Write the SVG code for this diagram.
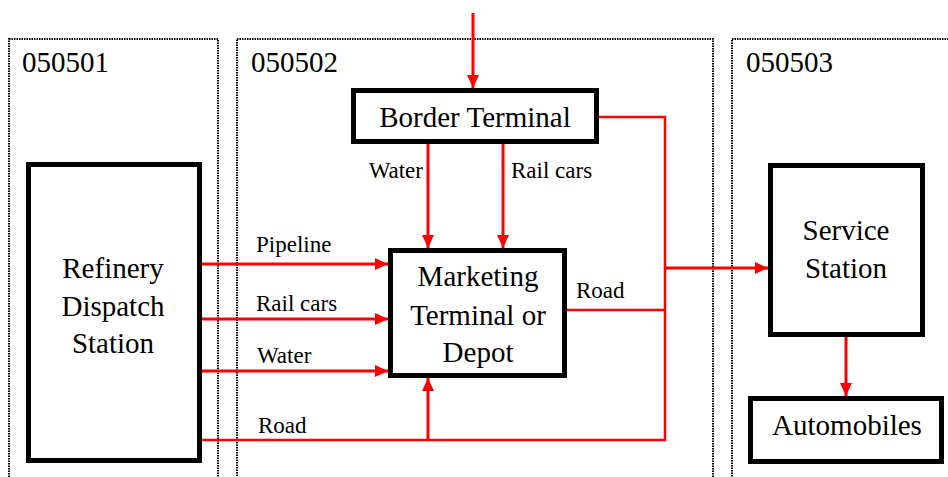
<svg xmlns="http://www.w3.org/2000/svg" width="948" height="477" viewBox="0 0 948 477" font-family="Liberation Serif, Times New Roman, serif">
<defs>
<style>
.zone{fill:none;stroke:#000;stroke-width:2;stroke-dasharray:1.5,1}
.node{fill:#fff;stroke:#000;stroke-width:5}
text{font-family:'Liberation Serif','Times New Roman',serif;fill:#000}
.big{font-size:29px;text-anchor:middle}
.zl{font-size:29px}
.lbl{font-size:23px}
.c{fill:none;stroke:#ff0000;stroke-width:3}
.thin{stroke-width:2.5}
</style>
<marker id="ah" markerUnits="userSpaceOnUse" markerWidth="13" markerHeight="12" refX="13" refY="6" orient="auto">
<path d="M0,0 L13,6 L0,12 z" fill="#ff0000"/>
</marker>
</defs>
<rect width="948" height="477" fill="#fff"/>
<g id="zones">
<rect class="zone" x="9" y="39" width="209" height="460"/>
<rect class="zone" x="237" y="39" width="476" height="460"/>
<rect class="zone" x="732" y="39" width="240" height="460"/>
<text class="zl" x="22" y="72">050501</text>
<text class="zl" x="251" y="72">050502</text>
<text class="zl" x="746" y="72">050503</text>
</g>
<g id="connectors">
<line class="c" x1="473" y1="13" x2="473" y2="88" marker-end="url(#ah)"/>
<line class="c" x1="428" y1="144" x2="428" y2="248" marker-end="url(#ah)"/>
<line class="c" x1="503" y1="144" x2="503" y2="248" marker-end="url(#ah)"/>
<line class="c" x1="200" y1="264" x2="388" y2="264" marker-end="url(#ah)"/>
<line class="c" x1="200" y1="319" x2="388" y2="319" marker-end="url(#ah)"/>
<line class="c" x1="200" y1="371" x2="388" y2="371" marker-end="url(#ah)"/>
<polyline class="c thin" points="200,440 665,440 665,117 599,117"/>
<line class="c" x1="428" y1="440" x2="428" y2="378" marker-end="url(#ah)"/>
<line class="c thin" x1="567" y1="310" x2="665" y2="310"/>
<line class="c" x1="665" y1="268" x2="768" y2="268" stroke-width="3.5" marker-end="url(#ah)"/>
<line class="c" x1="846" y1="337" x2="846" y2="396" marker-end="url(#ah)"/>
<text class="lbl" x="423" y="178" text-anchor="end">Water</text>
<text class="lbl" x="511" y="178">Rail cars</text>
<text class="lbl" x="256" y="252">Pipeline</text>
<text class="lbl" x="256" y="311">Rail cars</text>
<text class="lbl" x="257" y="363">Water</text>
<text class="lbl" x="258" y="433">Road</text>
<text class="lbl" x="576" y="298">Road</text>
</g>
<g id="border-terminal">
<rect class="node" x="353.5" y="90.5" width="243" height="51"/>
<text class="big" x="475" y="127">Border Terminal</text>
</g>
<g id="refinery">
<rect class="node" x="28.5" y="164.5" width="171" height="296"/>
<text class="big" x="113" y="278">Refinery</text>
<text class="big" x="113" y="316">Dispatch</text>
<text class="big" x="113" y="353">Station</text>
</g>
<g id="marketing-terminal">
<rect class="node" x="390.5" y="250.5" width="174" height="125"/>
<text class="big" x="478" y="286">Marketing</text>
<text class="big" x="478" y="325">Terminal or</text>
<text class="big" x="478" y="362">Depot</text>
</g>
<g id="service-station">
<rect class="node" x="770.5" y="165.5" width="152" height="169"/>
<text class="big" x="846" y="240">Service</text>
<text class="big" x="846" y="278">Station</text>
</g>
<g id="automobiles">
<rect class="node" x="750.5" y="398.5" width="191" height="63"/>
<text class="big" x="847" y="435">Automobiles</text>
</g>
</svg>
